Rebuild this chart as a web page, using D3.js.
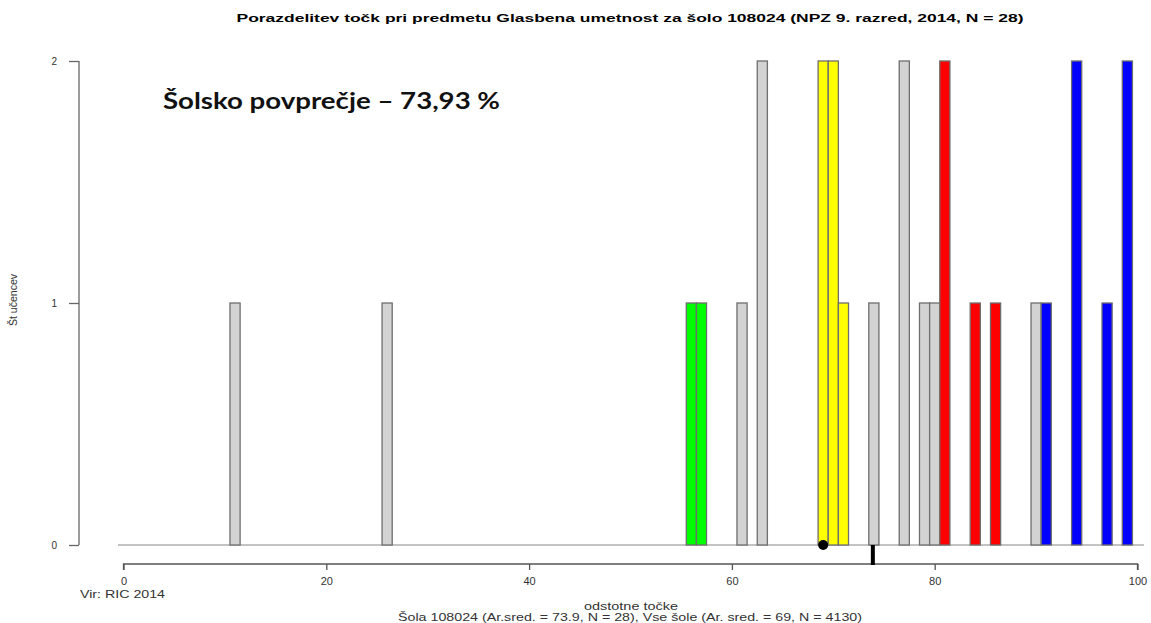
<!DOCTYPE html>
<html><head><meta charset="utf-8">
<script src="https://cdn.jsdelivr.net/npm/d3@7"></script>
<style>body{margin:0;background:#fff}svg{display:block}</style>
</head><body>
<script>
// Data
const scores = [11, 26, 56, 57, 61, 63, 69, 70, 71, 74, 77, 79, 80, 81, 84, 86, 90, 91, 94, 97, 99];
const counts = [1, 1, 1, 1, 1, 2, 2, 2, 1, 1, 2, 1, 1, 2, 1, 1, 1, 1, 2, 1, 2];
const groups = ["n","n","g","g","n","n","y","y","y","n","n","n","n","r","r","r","n","b","b","b","b"];
const xTicks = [0, 20, 40, 60, 80, 100];
const yTicks = [0, 1, 2];
const schoolMean = 73.9;
const allMean = 69;
const colors = {n:"#d3d3d3", g:"#00ff00", y:"#ffff00", r:"#ff0000", b:"#0000ff"};

const W = 1151, H = 623;
const svg = d3.select("body").append("svg").attr("width", W).attr("height", H);
const x = d3.scaleLinear().domain([0, 100]).range([123.5, 1137.5]);
const y = d3.scaleLinear().domain([0, 2]).range([545, 61]);
const data = scores.map((s, i) => ({s, c: counts[i], g: groups[i]}));

// baseline
svg.append("line").attr("x1", 118).attr("x2", 1144).attr("y1", y(0)).attr("y2", y(0))
  .attr("stroke", "#888").attr("stroke-width", 1.2);

// bars
svg.selectAll("rect.bar").data(data).enter().append("rect")
  .attr("x", d => x(d.s - 0.5)).attr("width", x(1) - x(0))
  .attr("y", d => y(d.c)).attr("height", d => y(0) - y(d.c))
  .attr("fill", d => colors[d.g]).attr("stroke", "#6e6e6e").attr("stroke-width", 1.3);

// y axis
const ya = svg.append("g").attr("transform", "translate(79,0)")
  .call(d3.axisLeft(y).tickValues(yTicks).tickFormat(d3.format("d")).tickSize(10).tickPadding(12));
ya.select(".domain").attr("stroke", "#666").attr("stroke-width", 1.3).attr("d", "M0," + y(2) + "V" + y(0));
ya.selectAll(".tick line").attr("stroke", "#666").attr("stroke-width", 1.3);
ya.selectAll("text").attr("font-family", "Liberation Sans, Arial").attr("font-size", 10).attr("fill", "#333");

// x axis
const xa = svg.append("g").attr("transform", "translate(0,564)")
  .call(d3.axisBottom(x).tickValues(xTicks).tickSize(6).tickPadding(7));
xa.select(".domain").attr("stroke", "#555").attr("stroke-width", 1.3).attr("d", "M" + x(0) + ",6V0H" + x(100) + "V6");
xa.selectAll(".tick line").attr("stroke", "#555").attr("stroke-width", 1.3);
xa.selectAll("text").attr("font-family", "Liberation Sans, Arial").attr("font-size", 11).attr("fill", "#333");

// mean markers
svg.append("circle").attr("cx", x(allMean)).attr("cy", y(0)).attr("r", 5).attr("fill", "#000");
svg.append("line").attr("x1", x(schoolMean)).attr("x2", x(schoolMean)).attr("y1", y(0)).attr("y2", 565)
  .attr("stroke", "#000").attr("stroke-width", 4);

// texts
const F = "Liberation Sans, Arial, sans-serif";
svg.append("text").attr("x", 630).attr("y", 22).attr("text-anchor", "middle")
  .attr("font-family", F).attr("font-weight", "bold").attr("font-size", 11.5)
  .attr("textLength", 787).attr("lengthAdjust", "spacingAndGlyphs")
  .text("Porazdelitev točk pri predmetu Glasbena umetnost za šolo 108024 (NPZ 9. razred, 2014, N = 28)");
svg.append("text").attr("x", 163).attr("y", 109)
  .attr("font-family", "Lato, Open Sans, sans-serif").attr("font-weight", "bold").attr("font-size", 23)
  .attr("textLength", 337).attr("lengthAdjust", "spacingAndGlyphs").attr("fill", "#111")
  .text("Šolsko povprečje – 73,93 %");
svg.append("text").attr("transform", "translate(17,300) rotate(-90)").attr("text-anchor", "middle")
  .attr("font-family", F).attr("font-size", 10).attr("fill", "#333")
  .attr("textLength", 52).attr("lengthAdjust", "spacingAndGlyphs")
  .text("Št učencev");
svg.append("text").attr("x", 80).attr("y", 598)
  .attr("font-family", F).attr("font-size", 11).attr("fill", "#333")
  .attr("textLength", 85).attr("lengthAdjust", "spacingAndGlyphs").text("Vir: RIC 2014");
svg.append("text").attr("x", 631).attr("y", 610).attr("text-anchor", "middle")
  .attr("font-family", F).attr("font-size", 11).attr("fill", "#333")
  .attr("textLength", 94).attr("lengthAdjust", "spacingAndGlyphs").text("odstotne točke");
svg.append("text").attr("x", 630).attr("y", 621).attr("text-anchor", "middle")
  .attr("font-family", F).attr("font-size", 11).attr("fill", "#333")
  .attr("textLength", 464).attr("lengthAdjust", "spacingAndGlyphs")
  .text("Šola 108024 (Ar.sred. = 73.9, N = 28), Vse šole (Ar. sred. = 69, N = 4130)");
</script>
</body></html>
